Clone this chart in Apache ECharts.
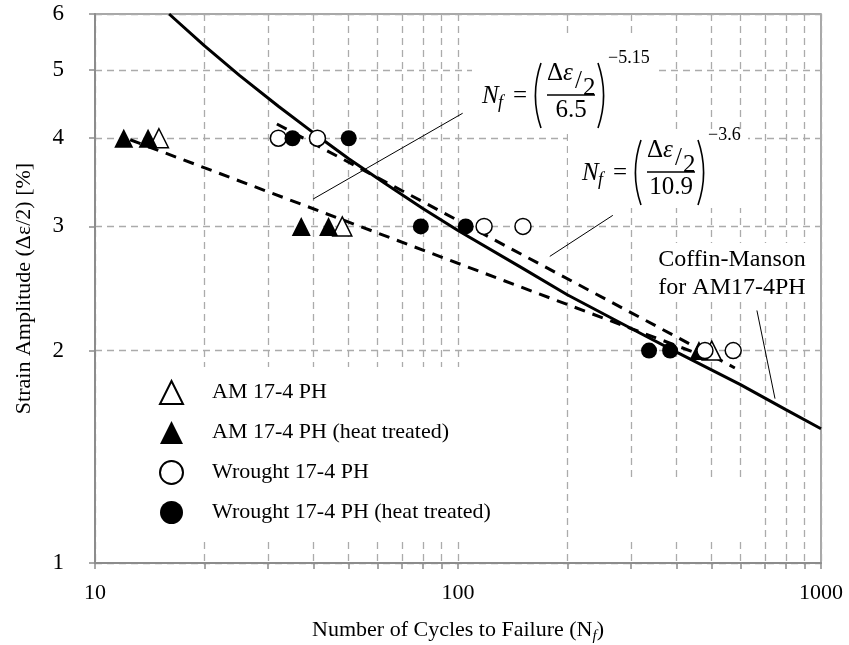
<!DOCTYPE html>
<html>
<head>
<meta charset="utf-8">
<script src="https://cdn.jsdelivr.net/npm/echarts@6/dist/echarts.min.js"></script>
<style>
html, body { margin: 0; padding: 0; background: #fff; }
#main { width: 849px; height: 645px; }
</style>
</head>
<body>
<div id="main"></div>
<script>
// values
var amOpen = [[15, 4], [48, 3], [500, 2]]
var amHeat = [[12, 4], [14, 4], [37, 3], [44, 3], [461, 2]]
var wrOpen = [[32, 4], [41, 4], [118, 3], [151, 3], [479, 2], [573, 2]]
var wrHeat = [[35, 4], [50, 4], [79, 3], [105, 3], [336, 2], [384, 2]]

// Coffin-Manson curve
var cmN = [16, 20, 25, 32, 40, 50, 63, 80, 100, 150, 200, 300, 400, 600, 800, 1000]
var cmStrain = [6, 5.41, 4.91, 4.44, 4.07, 3.74, 3.45, 3.18, 2.96, 2.62, 2.40, 2.15, 1.99, 1.79, 1.65, 1.55]

// power law fits (straight on log-log), end points
var amFit = [[12.5, 3.98], [470, 1.97]]
var wrFit = [[31.7, 4.19], [579, 1.89]]

// leader lines from the labels
var leader1 = [[39.9, 3.28], [103, 4.34]]
var leader2 = [[267, 3.11], [179, 2.72]]
var leader3 = [[666, 2.28], [747, 1.71]]

var xTicks = [10, 20, 30, 40, 50, 60, 70, 80, 90, 100, 200, 300, 400, 500, 600, 700, 800, 900, 1000]
var xLabels = [10, 100, 1000]
var yTicks = [1, 2, 3, 4, 5, 6]

var names = ['AM 17-4 PH', 'AM 17-4 PH (heat treated)', 'Wrought 17-4 PH', 'Wrought 17-4 PH (heat treated)']

var FONT = '"Liberation Serif", "Times New Roman", serif'
var gray = '#8c8c8c'

var chart = echarts.init(document.getElementById('main'))

function zip(a, b) {
    return a.map(function (v, i) { return [v, b[i]] })
}

// text piece for the graphic layer
function txt(x, y, s, size, italic, align) {
    return {
        type: 'text', x: x, y: y, z: 10,
        style: {
            text: s, fill: '#000',
            font: (italic ? 'italic ' : '') + size + 'px ' + FONT,
            align: align || 'left', verticalAlign: 'middle'
        }
    }
}
function box(x, y, w, h) {
    return { type: 'rect', z: 1, shape: { x: x, y: y, width: w, height: h }, style: { fill: '#fff' }, silent: true }
}
function paren(x, top, bottom, left) {
    var d = left ? -7 : 7
    return {
        type: 'bezierCurve', z: 10,
        shape: { x1: x, y1: top, x2: x, y2: bottom, cpx1: x + d * 1.6, cpy1: (top + bottom) / 2 },
        style: { stroke: '#000', lineWidth: 1.6, fill: null }
    }
}
function hbar(x1, x2, y) {
    return { type: 'line', z: 10, shape: { x1: x1, y1: y, x2: x2, y2: y }, style: { stroke: '#000', lineWidth: 1.3 } }
}

// fraction equation, origin = position of "N"
function equation(ox, oy, den, expo) {
    return [
        txt(ox, oy, 'N', 25, true),
        txt(ox + 16, oy + 7, 'f', 18, true),
        txt(ox + 31, oy, '=', 25),
        paren(ox + 59, oy - 33, oy + 32, true),
        txt(ox + 65, oy - 23, 'Δ', 25),
        txt(ox + 81, oy - 23, 'ε', 25, true),
        txt(ox + 93, oy - 15, '/', 25),
        txt(ox + 101, oy - 8, '2', 25),
        hbar(ox + 65, ox + 113, oy - 1),
        txt(ox + 89, oy + 14, den, 25, false, 'center'),
        paren(ox + 116, oy - 33, oy + 32, false),
        txt(ox + 126, oy - 38, expo, 18)
    ]
}

var scatterBase = { type: 'scatter', z: 4 }

var option = {
    animation: false,
    grid: {
        left: 95, right: 28, top: 14, bottom: 82, outerBoundsMode: 'none',
        show: true, borderColor: gray, borderWidth: 1.5
    },
    legend: {
        data: names,
        orient: 'vertical',
        left: 154, top: 375,
        itemWidth: 23, itemHeight: 23, itemGap: 16,
        textStyle: { fontFamily: FONT, fontSize: 22, color: '#000', padding: [0, 0, 0, 24] },
        selectedMode: false
    },
    xAxis: {
        type: 'log', logBase: 10, min: 10, max: 1000,
        name: 'Number of Cycles to Failure (N{sub|f})',
        nameLocation: 'middle', nameGap: 54,
        nameTextStyle: {
            fontFamily: FONT, fontSize: 22, color: '#000',
            rich: { sub: { fontFamily: FONT, fontStyle: 'italic', fontSize: 15, verticalAlign: 'bottom', padding: [12, 0, 0, 0] } }
        },
        axisLine: { lineStyle: { color: gray, width: 2 } },
        axisTick: { show: true, customValues: xTicks, length: 6, lineStyle: { color: gray, width: 1.5 } },
        axisLabel: {
            customValues: xLabels, fontFamily: FONT, fontSize: 22, color: '#000', margin: 19,
            formatter: function (v) { return String(Math.round(v)) }
        },
        splitLine: { show: true, lineStyle: { color: '#ababab', width: 1.3, type: [7, 5] } },
        minorTick: { show: false }
    },
    yAxis: {
        type: 'log', logBase: 10, min: 1, max: 6,
        name: 'Strain Amplitude (Δε/2) [%]',
        nameLocation: 'middle', nameGap: 60,
        nameTextStyle: { fontFamily: FONT, fontSize: 22, color: '#000' },
        axisLine: { show: true, lineStyle: { color: gray, width: 2 } },
        axisTick: { show: true, customValues: yTicks, length: 6, lineStyle: { color: gray, width: 1.5 } },
        axisLabel: {
            customValues: yTicks, fontFamily: FONT, fontSize: 23, color: '#000', margin: 31,
            formatter: function (v) { return String(Math.round(v)) }
        },
        splitLine: { show: true, lineStyle: { color: '#ababab', width: 1.3, type: [7, 5] } }
    },
    graphic: [
        box(150, 367, 355, 170),
        box(600, 477, 152, 61),
        box(472, 33, 186, 100),
        box(568, 131, 180, 77),
        box(650, 243, 162, 59),
        txt(732, 260, 'Coffin-Manson', 24, false, 'center'),
        txt(732, 288, 'for AM17-4PH', 24, false, 'center')
    ].concat(equation(482, 96, '6.5', '−5.15'), equation(582, 173, '10.9', '−3.6')),
    series: [
        {
            name: 'Coffin-Manson', type: 'line', data: zip(cmN, cmStrain), symbol: 'none', z: 3,
            lineStyle: { color: '#000', width: 3 }
        },
        {
            name: 'fitAM', type: 'line', data: amFit, symbol: 'none', z: 3,
            lineStyle: { color: '#000', width: 3, type: [11, 8] }
        },
        {
            name: 'fitWR', type: 'line', data: wrFit, symbol: 'none', z: 3,
            lineStyle: { color: '#000', width: 3, type: [11, 8] }
        },
        { name: 'lead1', type: 'line', data: leader1, symbol: 'none', z: 3, lineStyle: { color: '#000', width: 1 } },
        { name: 'lead2', type: 'line', data: leader2, symbol: 'none', z: 3, lineStyle: { color: '#000', width: 1 } },
        { name: 'lead3', type: 'line', data: leader3, symbol: 'none', z: 3, lineStyle: { color: '#000', width: 1 } },
        Object.assign({}, scatterBase, {
            name: names[0], data: amOpen, symbol: 'triangle', symbolSize: 19,
            itemStyle: { color: '#fff', borderColor: '#000', borderWidth: 1.5, opacity: 1 }
        }),
        Object.assign({}, scatterBase, {
            name: names[1], data: amHeat, symbol: 'triangle', symbolSize: 19,
            itemStyle: { color: '#000', opacity: 1 }
        }),
        Object.assign({}, scatterBase, {
            name: names[2], data: wrOpen, symbol: 'circle', symbolSize: 16,
            itemStyle: { color: '#fff', borderColor: '#000', borderWidth: 1.5, opacity: 1 }
        }),
        Object.assign({}, scatterBase, {
            name: names[3], data: wrHeat, symbol: 'circle', symbolSize: 16,
            itemStyle: { color: '#000', opacity: 1 }
        })
    ]
}

chart.setOption(option)
</script>
</body>
</html>
